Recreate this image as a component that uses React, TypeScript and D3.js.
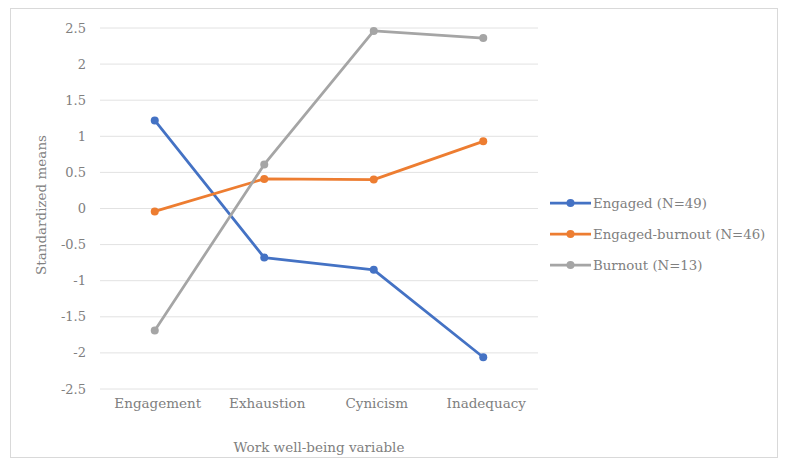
import React from "react";
import * as d3 from "d3";

const categories = ["Engagement", "Exhaustion", "Cynicism", "Inadequacy"];
const engaged = [1.22, -0.68, -0.85, -2.06];
const engagedBurnout = [-0.04, 0.41, 0.4, 0.93];
const burnout = [-1.69, 0.61, 2.46, 2.36];
const seriesNames = ["Engaged (N=49)", "Engaged-burnout (N=46)", "Burnout (N=13)"];
const seriesColors = ["#4472C4", "#ED7D31", "#A5A5A5"];
const yTicks = [2.5, 2, 1.5, 1, 0.5, 0, -0.5, -1, -1.5, -2, -2.5];
const yTitle = "Standardized means";
const xTitle = "Work well-being variable";

const W = 788;
const H = 461;
const FONT = "'DejaVu Serif', serif";

export default function App() {
  const series = [engaged, engagedBurnout, burnout];
  const x = d3.scaleBand().domain(categories).range([100, 538]);
  const y = d3.scaleLinear().domain([-2.5, 2.5]).range([389, 28]);
  const cx = (c: string) => (x(c) as number) + x.bandwidth() / 2;
  const line = d3
    .line<number>()
    .x((_, i) => cx(categories[i]))
    .y((d) => y(d));
  const legendY = [203, 234, 265];
  return (
    <svg
      width={W}
      height={H}
      style={{ position: "absolute", left: 0, top: 0, background: "#fff" }}
    >
      <rect x={10.5} y={8.5} width={767} height={449} fill="#fff" stroke="#d9d9d9" />
      {yTicks.map((t) => (
        <g key={t}>
          <line x1={100} x2={538} y1={y(t)} y2={y(t)} stroke="#e2e2e2" strokeWidth={1} />
          <text
            x={86}
            y={y(t)}
            dy="0.35em"
            textAnchor="end"
            fontFamily={FONT}
            fontSize={13}
            fill="#808080"
          >
            {String(t)}
          </text>
        </g>
      ))}
      {categories.map((c) => (
        <text
          key={c}
          x={cx(c) + 3}
          y={408}
          textAnchor="middle"
          fontFamily={FONT}
          fontSize={13.5}
          fill="#808080"
        >
          {c}
        </text>
      ))}
      <text
        x={319}
        y={452}
        textAnchor="middle"
        fontFamily={FONT}
        fontSize={13.5}
        fill="#808080"
      >
        {xTitle}
      </text>
      <text
        transform={`translate(46,${205}) rotate(-90)`}
        textAnchor="middle"
        fontFamily={FONT}
        fontSize={13.5}
        fill="#808080"
      >
        {yTitle}
      </text>
      {series.map((s, k) => (
        <g key={k}>
          <path d={line(s) || ""} fill="none" stroke={seriesColors[k]} strokeWidth={2.75} strokeLinejoin="round" />
          {s.map((v, i) => (
            <circle key={i} cx={cx(categories[i])} cy={y(v)} r={4} fill={seriesColors[k]} />
          ))}
        </g>
      ))}
      {seriesNames.map((n, k) => (
        <g key={n}>
          <line x1={550} x2={591} y1={legendY[k]} y2={legendY[k]} stroke={seriesColors[k]} strokeWidth={2.75} />
          <circle cx={570.5} cy={legendY[k]} r={4} fill={seriesColors[k]} />
          <text
            x={593}
            y={legendY[k]}
            dy="0.35em"
            fontFamily={FONT}
            fontSize={13.3}
            fill="#808080"
          >
            {n}
          </text>
        </g>
      ))}
    </svg>
  );
}
